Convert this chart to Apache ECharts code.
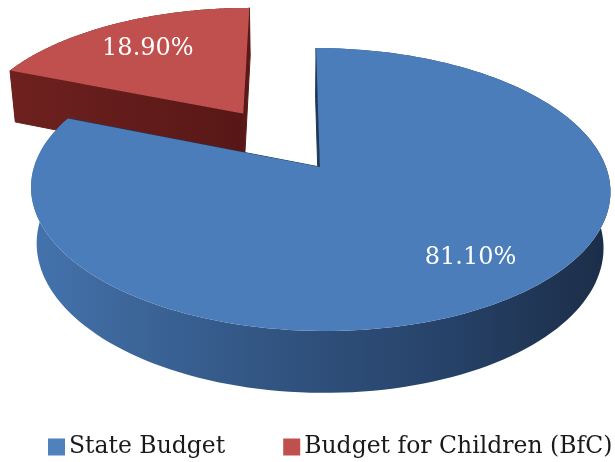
<!DOCTYPE html>
<html>
<head>
<meta charset="utf-8">
<script src="https://cdn.jsdelivr.net/npm/echarts@6/dist/echarts.min.js"></script>
<style>
  html, body { margin: 0; padding: 0; background: #ffffff; }
  #chart { width: 615px; height: 462px; }
</style>
</head>
<body>
<div id="chart"></div>
<script>
// Budget shares (percent)
const categories = ['State Budget', 'Budget for Children (BfC)'];
const shares = [81.1, 18.9];
const explodeBy = [0, 0.5];          // radial pull-out of each slice, in pie radii

// Appearance of each slice
const topColors = ['#4A7DBA', '#C0504D'];
const legendColors = ['#4F81BD', '#C0504D'];
const labelRadius = [0.82, 0.72];
const labelLift = [14, -2];

// Perspective camera for the tilted disc (unit radius, thickness VIEW.h)
const VIEW = {
  x0: 291.4,      // screen x of the camera axis
  camU: -0.1,     // camera position across the disc
  cy: 222.8,
  scale: 286,
  sin: 0.513,
  depth: 5.4,
  h: 0.227
};
VIEW.cos = Math.sqrt(1 - VIEW.sin * VIEW.sin);

function project(u, v, y) {
  const yc = y * VIEW.cos - v * VIEW.sin;
  const w = 1 + ((VIEW.h - y) * VIEW.sin - v * VIEW.cos) / VIEW.depth;
  return [VIEW.x0 + VIEW.scale * (u - VIEW.camU) / w, VIEW.cy - VIEW.scale * yc / w];
}

const total = shares.reduce((a, b) => a + b, 0);
const starts = [];
shares.reduce((acc, v, i) => { starts[i] = acc; return acc + v; }, 0);

const blueWall = {
  type: 'linear', x: 30, y: 0, x2: 612, y2: 0, global: true,
  colorStops: [
    { offset: 0, color: '#4473AD' },
    { offset: 0.2, color: '#3B6497' },
    { offset: 0.45, color: '#30527E' },
    { offset: 0.7, color: '#27436A' },
    { offset: 1, color: '#1B2D47' }
  ]
};
const redFace = {
  type: 'linear', x: 10, y: 0, x2: 250, y2: 0, global: true,
  colorStops: [
    { offset: 0, color: '#6E211F' },
    { offset: 1, color: '#571716' }
  ]
};
const wallFill = [blueWall, '#5A1816'];
const faceFill = [['#1F3858', '#1F3858'], [redFace, '#5A1816']];

function sliceItem(i) {
  return function () {
    const a0 = starts[i] / total * Math.PI * 2;
    const a1 = (starts[i] + shares[i]) / total * Math.PI * 2;
    const am = (a0 + a1) / 2;
    const ou = Math.sin(am) * explodeBy[i];
    const ov = -Math.cos(am) * explodeBy[i];
    const rim = (a, y) => project(ou + Math.sin(a), ov - Math.cos(a), y);
    const apexTop = project(ou, ov, VIEW.h);
    const apexBot = project(ou, ov, 0);
    const n = 160;
    const topArc = [], botArc = [];
    for (let k = 0; k <= n; k++) {
      const a = a0 + (a1 - a0) * k / n;
      topArc.push(rim(a, VIEW.h));
      botArc.push(rim(a, 0));
    }
    const wall = topArc.concat(botArc.slice().reverse());
    const faceStart = [apexTop, rim(a0, VIEW.h), rim(a0, 0), apexBot];
    const faceEnd = [apexTop, rim(a1, VIEW.h), rim(a1, 0), apexBot];
    const top = [apexTop].concat(topArc);

    const lr = labelRadius[i];
    const lp = project(ou + Math.sin(am) * lr, ov - Math.cos(am) * lr, VIEW.h);

    return {
      type: 'group',
      children: [
        { type: 'polygon', shape: { points: wall }, style: { fill: wallFill[i] } },
        { type: 'polygon', shape: { points: faceStart }, style: { fill: faceFill[i][0], stroke: faceFill[i][0], lineWidth: 1 } },
        { type: 'polygon', shape: { points: faceEnd }, style: { fill: faceFill[i][1], stroke: faceFill[i][1], lineWidth: 1 } },
        { type: 'polygon', shape: { points: top }, style: { fill: topColors[i] } },
        {
          type: 'text',
          style: {
            text: shares[i].toFixed(2) + '%',
            x: lp[0], y: lp[1] - labelLift[i],
            align: 'center', verticalAlign: 'middle',
            fill: '#FFFFFF',
            font: '24px "DejaVu Serif"'
          }
        }
      ]
    };
  };
}

// Back slice first so the front slice overlaps it
const order = [1, 0];
const series = order.map((i, k) => ({
  type: 'custom',
  name: categories[i],
  coordinateSystem: 'none',
  z: 2 + k,
  itemStyle: { color: legendColors[i] },
  data: [shares[i]],
  renderItem: sliceItem(i)
}));

const chart = echarts.init(document.getElementById('chart'), null, { renderer: 'canvas' });
chart.setOption({
  animation: false,
  backgroundColor: '#ffffff',
  legend: {
    data: categories,
    left: 48,
    top: 435,
    width: 1000,
    padding: 0,
    icon: 'rect',
    itemWidth: 17,
    itemHeight: 17,
    itemGap: 58,
    textStyle: { fontFamily: 'DejaVu Serif', fontSize: 23.5, color: '#1a1a1a', padding: [0, 0, 0, -1] }
  },
  series: series
});
</script>
</body>
</html>
